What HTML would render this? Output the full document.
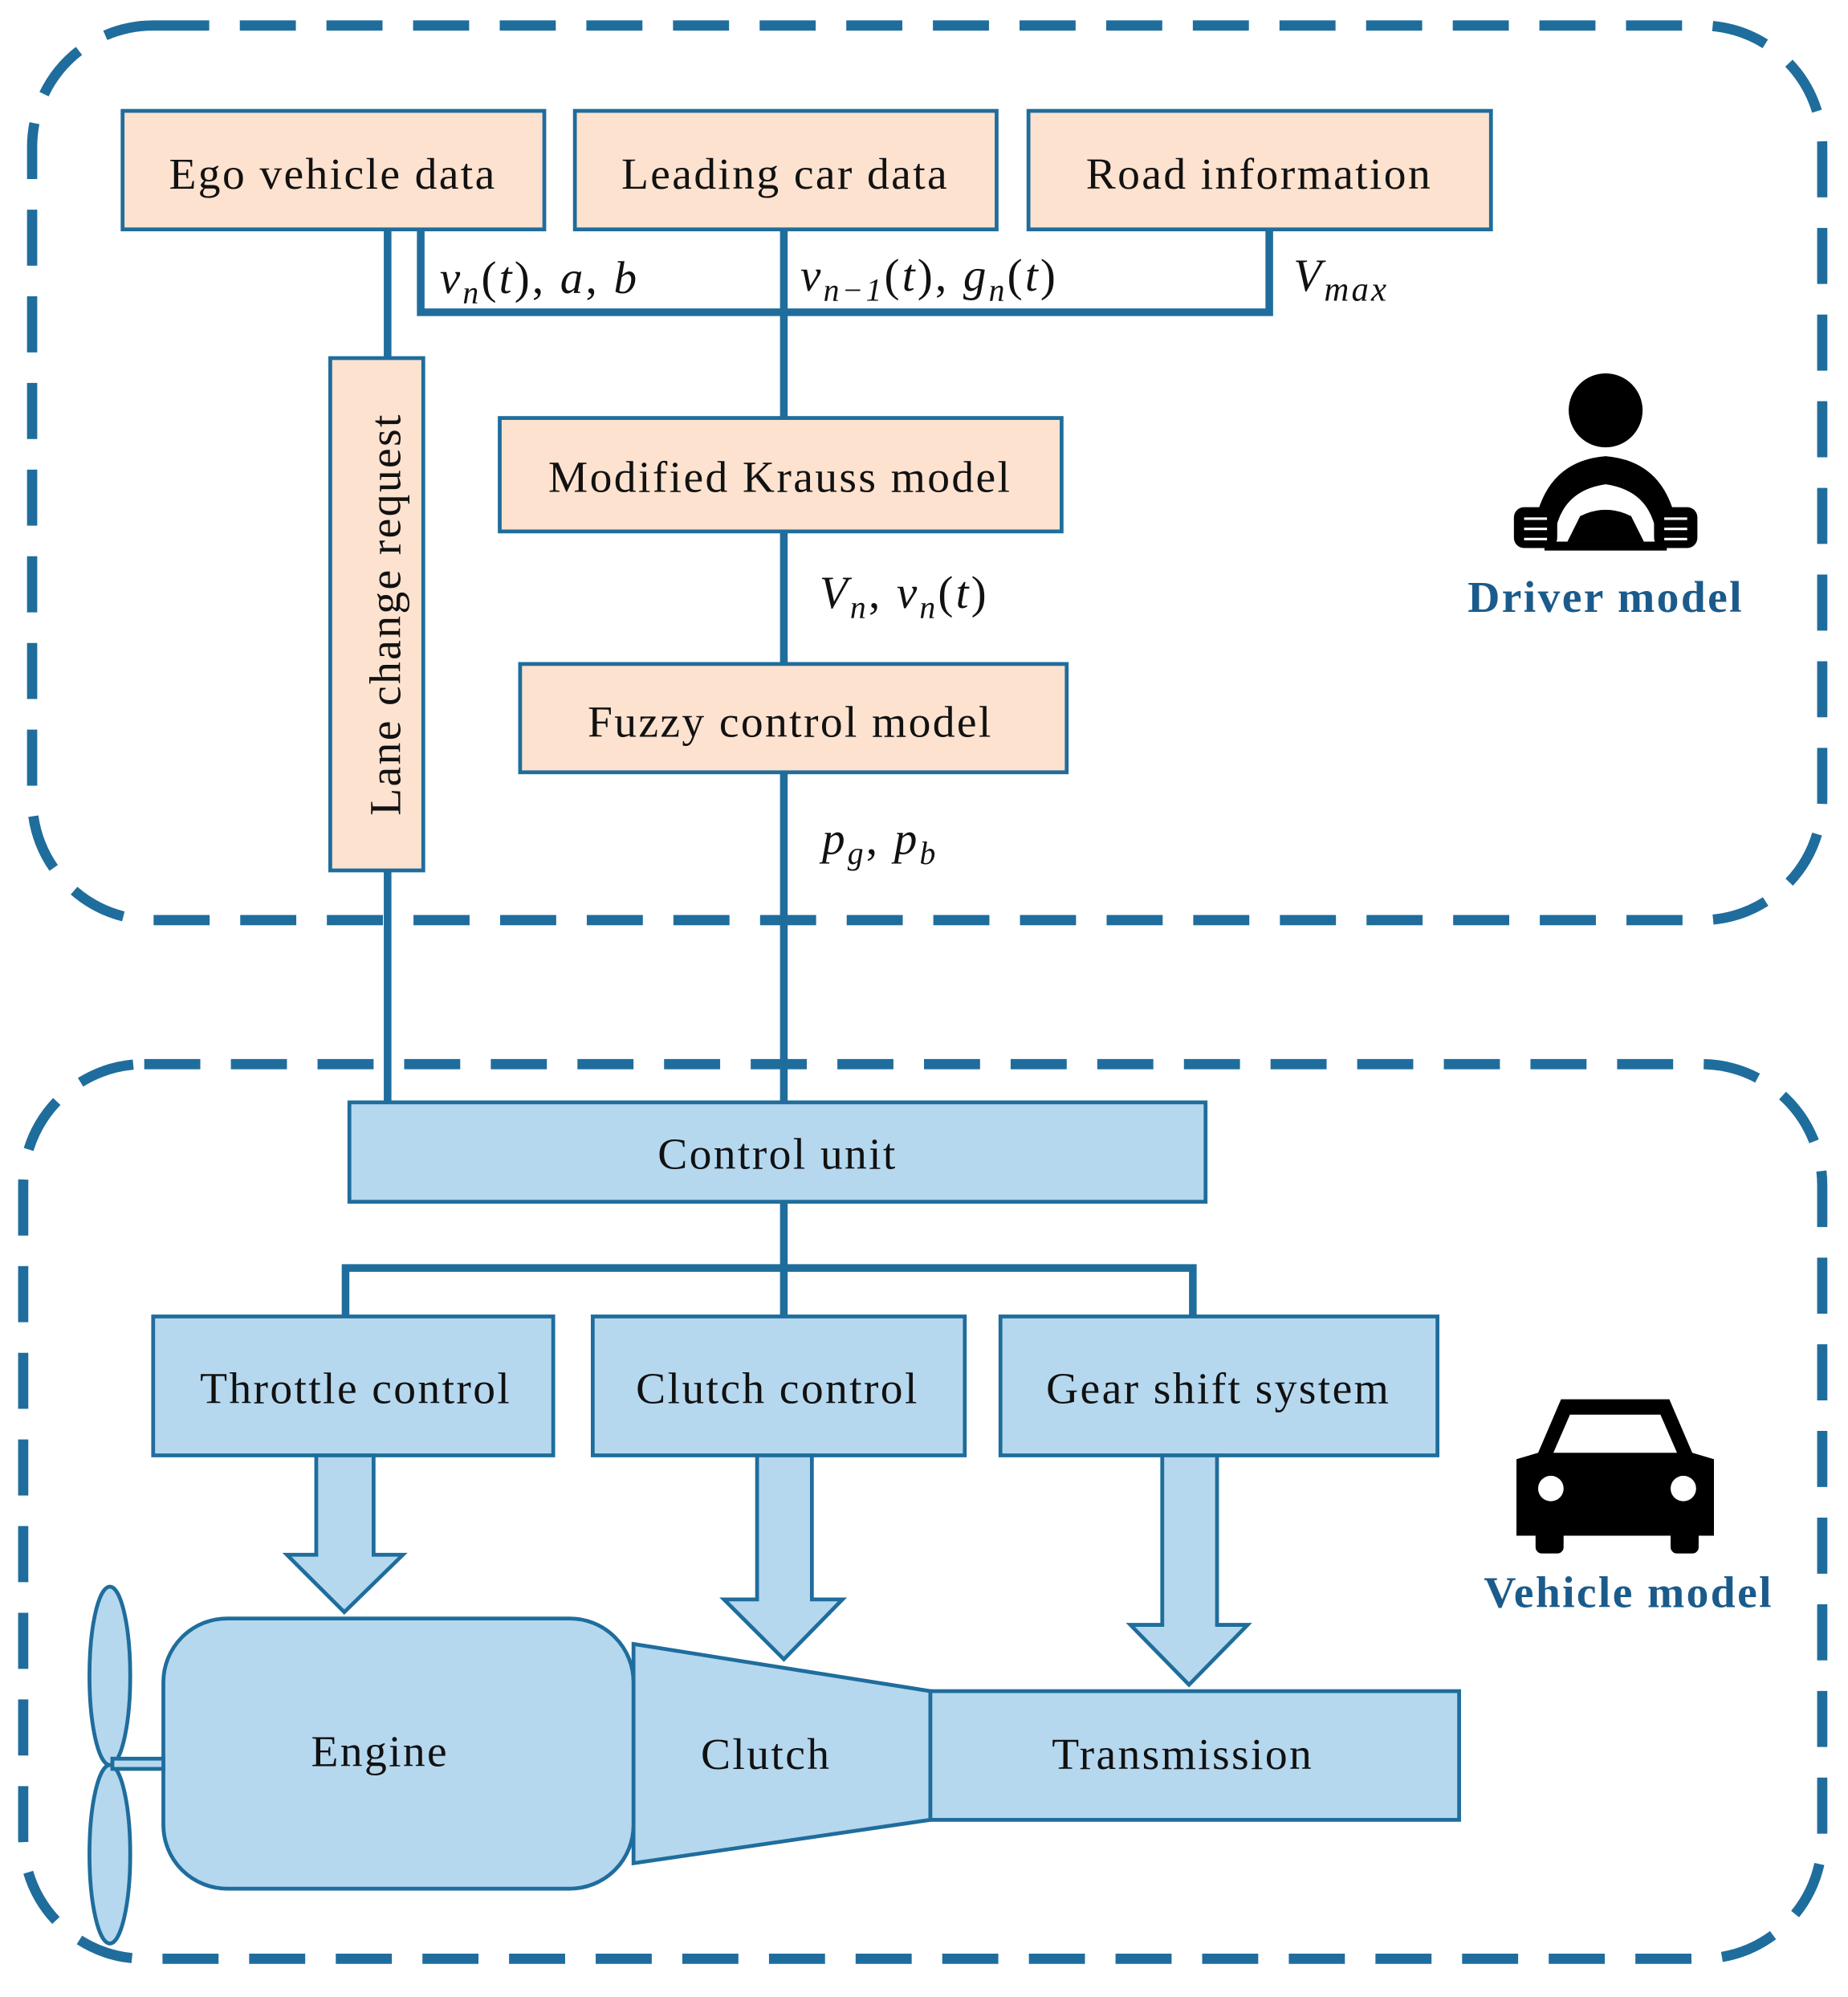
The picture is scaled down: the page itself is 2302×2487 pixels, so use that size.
<!DOCTYPE html>
<html><head><meta charset="utf-8"><style>
html,body{margin:0;padding:0;background:#fff;}
svg{display:block}
text{font-family:"Liberation Serif",serif;fill:#111;}
.m{font-style:italic;font-size:36px;letter-spacing:2px}
</style></head><body>
<svg width="2302" height="2487" viewBox="0 0 1450 1567" xmlns="http://www.w3.org/2000/svg">
<g fill="none" stroke="#1f6d9c" stroke-width="8" stroke-dasharray="44 24">
<rect x="25" y="20" width="1405" height="702" rx="95"/>
<rect x="18" y="835" width="1412" height="702" rx="95"/>
</g>
<g stroke="#1f6d9c" stroke-width="6" fill="none">
<line x1="304" y1="180" x2="304" y2="281"/>
<line x1="304" y1="683" x2="304" y2="865"/>
<polyline points="330,180 330,245 996,245 996,180"/>
<line x1="615" y1="180" x2="615" y2="328"/>
<line x1="615" y1="417" x2="615" y2="521"/>
<line x1="615" y1="606" x2="615" y2="865"/>
<line x1="615" y1="943" x2="615" y2="1033"/>
<polyline points="271,1033 271,995 936,995 936,1033"/>
</g>
<g fill="#fce2cf" stroke="#1f6d9c" stroke-width="3">
<rect x="96" y="87" width="331" height="93"/>
<rect x="451" y="87" width="331" height="93"/>
<rect x="807" y="87" width="363" height="93"/>
<rect x="259" y="281" width="73" height="402"/>
<rect x="392" y="328" width="441" height="89"/>
<rect x="408" y="521" width="429" height="85"/>
</g>
<g fill="#b5d8ef" stroke="#1f6d9c" stroke-width="3">
<rect x="274" y="865" width="672" height="78"/>
<rect x="120" y="1033" width="314" height="109"/>
<rect x="465" y="1033" width="292" height="109"/>
<rect x="785" y="1033" width="343" height="109"/>
<polygon points="248,1142 293,1142 293,1220 316,1220 270,1265 225,1220 248,1220"/>
<polygon points="594,1142 637,1142 637,1255 661,1255 615,1302 568,1255 594,1255"/>
<polygon points="912,1142 955,1142 955,1275 979,1275 933,1322 887,1275 912,1275"/>
<polygon points="497,1290 730,1327 730,1428 497,1462"/>
<rect x="730" y="1327" width="415" height="101"/>
<rect x="128" y="1270" width="369" height="212" rx="50"/>
<ellipse cx="86" cy="1315" rx="16" ry="70"/>
<ellipse cx="86" cy="1455" rx="16" ry="70"/>
<rect x="88" y="1380" width="40" height="8"/>
</g>
<g font-size="35" text-anchor="middle" letter-spacing="1.5">
<text x="261" y="148">Ego vehicle data</text>
<text x="616" y="148">Leading car data</text>
<text x="988" y="148">Road information</text>
<text x="612" y="386">Modified Krauss model</text>
<text x="620" y="578">Fuzzy control model</text>
<text transform="translate(314,482) rotate(-90)">Lane change request</text>
<text x="610" y="917">Control unit</text>
<text x="279" y="1101">Throttle control</text>
<text x="610" y="1101">Clutch control</text>
<text x="956" y="1101">Gear shift system</text>
<text x="298" y="1386">Engine</text>
<text x="601" y="1388">Clutch</text>
<text x="928" y="1388">Transmission</text>
</g>
<text class="m" x="345" y="230">v<tspan font-size="25" dy="8">n</tspan><tspan dy="-8" font-style="normal">(</tspan>t<tspan font-style="normal">),  </tspan>a<tspan font-style="normal">, </tspan>b</text>
<text class="m" x="628" y="228">v<tspan font-size="25" dy="8">n−1</tspan><tspan dy="-8" font-style="normal">(</tspan>t<tspan font-style="normal">), </tspan>g<tspan font-size="25" dy="8">n</tspan><tspan dy="-8" font-style="normal">(</tspan>t<tspan font-style="normal">)</tspan></text>
<text class="m" x="1015" y="228">V<tspan font-size="27" dy="8">max</tspan></text>
<text class="m" x="643" y="477">V<tspan font-size="25" dy="8">n</tspan><tspan dy="-8" font-style="normal">,  </tspan>v<tspan font-size="25" dy="8">n</tspan><tspan dy="-8" font-style="normal">(</tspan>t<tspan font-style="normal">)</tspan></text>
<text class="m" x="645" y="670">p<tspan font-size="25" dy="8">g</tspan><tspan dy="-8" font-style="normal">, </tspan>p<tspan font-size="25" dy="8">b</tspan></text>
<!-- driver icon -->
<g fill="#000">
<circle cx="1260" cy="322" r="29"/>
<path d="M1203,420 Q1210,362 1260,358 Q1310,362 1317,420 L1300,420 Q1295,385 1260,380 Q1225,385 1220,420 Z"/>
<path d="M1222,390 Q1260,378 1298,390 L1280,404 Q1260,395 1240,404 Z" fill="none"/>
<path d="M1240,405 Q1260,395 1280,405 L1290,425 L1230,425 Z"/>
<rect x="1188" y="398" width="34" height="32" rx="8"/>
<rect x="1298" y="398" width="34" height="32" rx="8"/>
<rect x="1212" y="425" width="96" height="7"/>
</g>
<g stroke="#fff" stroke-width="2">
<line x1="1196" y1="407" x2="1214" y2="407"/><line x1="1196" y1="415" x2="1214" y2="415"/><line x1="1196" y1="423" x2="1214" y2="423"/>
<line x1="1306" y1="407" x2="1324" y2="407"/><line x1="1306" y1="415" x2="1324" y2="415"/><line x1="1306" y1="423" x2="1324" y2="423"/>
</g>
<text x="1260" y="480" font-size="35" font-weight="bold" text-anchor="middle" letter-spacing="1.5" style="fill:#1b5b8c">Driver model</text>
<!-- car icon -->
<g fill="#000">
<path d="M1225,1098 L1310,1098 L1328,1140 L1345,1145 L1345,1205 L1190,1205 L1190,1145 L1207,1140 Z"/>
<rect x="1205" y="1195" width="22" height="24" rx="5"/>
<rect x="1311" y="1195" width="22" height="24" rx="5"/>
</g>
<path d="M1232,1110 L1303,1110 L1316,1140 L1219,1140 Z" fill="#fff"/>
<circle cx="1217" cy="1168" r="10" fill="#fff"/>
<circle cx="1321" cy="1168" r="10" fill="#fff"/>
<text x="1278" y="1261" font-size="35" font-weight="bold" text-anchor="middle" letter-spacing="1.5" style="fill:#1b5b8c">Vehicle model</text>
</svg>
</body></html>
